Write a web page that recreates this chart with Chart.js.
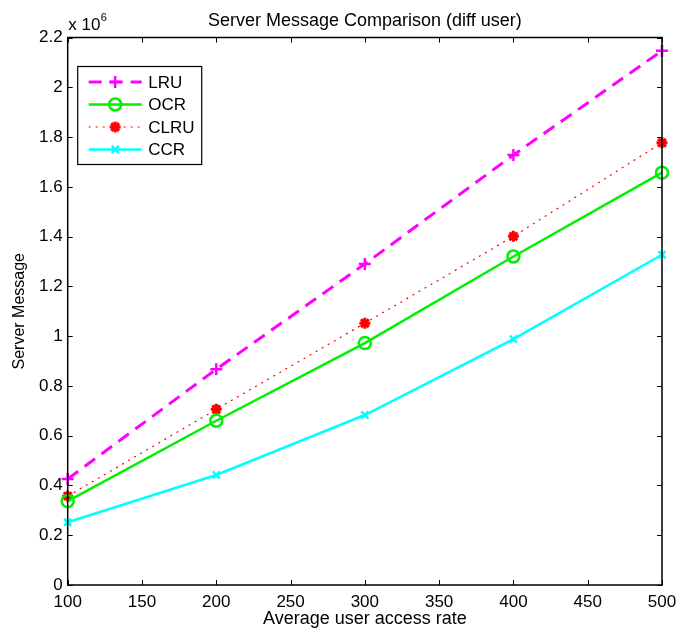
<!DOCTYPE html>
<html>
<head>
<meta charset="utf-8">
<script src="https://cdn.jsdelivr.net/npm/chart.js@4"></script>
<style>
  html, body { margin: 0; padding: 0; background: #fff; }
  #wrap { width: 680px; height: 632px; }
</style>
</head>
<body>
<div id="wrap"><canvas id="serverChart" width="680" height="632"></canvas></div>
<script>
// access rates on the x axis
const accessRates = [100, 200, 300, 400, 500];

// server messages per scheme
const lruValues = [426000, 867000, 1290000, 1728000, 2147000];
const ocrValues = [337000, 660000, 972000, 1320000, 1657000];
const clruValues = [357000, 706000, 1052000, 1401000, 1777000];
const ccrValues = [252000, 442000, 683000, 988000, 1327000];

const xTicks = [100, 150, 200, 250, 300, 350, 400, 450, 500];
const yTicks = [0, 0.2, 0.4, 0.6, 0.8, 1, 1.2, 1.4, 1.6, 1.8, 2, 2.2];

const FONT = "'Liberation Sans', Arial, Helvetica, sans-serif";

function toPoints(values) {
    return values.map((v, i) => ({ x: accessRates[i], y: v }));
}

const datasets = [
    {
        label: "LRU",
        data: toPoints(lruValues),
        borderColor: "#ff00ff",
        borderWidth: 3,
        borderDash: [13, 8],
        pointStyle: "cross",
        pointRadius: 6,
        pointBorderWidth: 2.5,
        pointBorderColor: "#ff00ff",
        pointBackgroundColor: "#ff00ff",
    },
    {
        label: "OCR",
        data: toPoints(ocrValues),
        borderColor: "#00f000",
        borderWidth: 2.5,
        pointStyle: "circle",
        pointRadius: 6,
        pointBorderWidth: 2.5,
        pointBorderColor: "#00f000",
        pointBackgroundColor: "rgba(0,0,0,0)",
    },
    {
        label: "CLRU",
        data: toPoints(clruValues),
        borderColor: "#ff0000",
        borderWidth: 1.2,
        borderDash: [2, 5],
        pointStyle: "star",
        pointRadius: 5.5,
        pointBorderWidth: 3,
        pointBorderColor: "#ff0000",
        pointBackgroundColor: "#ff0000",
    },
    {
        label: "CCR",
        data: toPoints(ccrValues),
        borderColor: "#00ffff",
        borderWidth: 2.5,
        pointStyle: "crossRot",
        pointRadius: 5,
        pointBorderWidth: 2.5,
        pointBorderColor: "#00ffff",
        pointBackgroundColor: "#00ffff",
    },
];
datasets.forEach((d) => { d.fill = false; d.tension = 0; d.clip = false; });

// matlab-like frame, inward ticks, legend box and exponent label
const matlabFrame = {
    id: "matlabFrame",
    afterDraw(chart) {
        const ctx = chart.ctx;
        const area = chart.chartArea;
        const xs = chart.scales.x;
        const ys = chart.scales.y;
        const tick = 5;

        ctx.save();
        ctx.strokeStyle = "#000";
        ctx.lineWidth = 1.5;
        ctx.strokeRect(area.left, area.top, area.right - area.left, area.bottom - area.top);

        ctx.lineWidth = 1;
        ctx.beginPath();
        xTicks.forEach((t) => {
            const px = Math.round(xs.getPixelForValue(t)) + 0.5;
            ctx.moveTo(px, area.bottom);
            ctx.lineTo(px, area.bottom - tick);
            ctx.moveTo(px, area.top);
            ctx.lineTo(px, area.top + tick);
        });
        yTicks.forEach((t) => {
            const py = Math.round(ys.getPixelForValue(t * 1e6)) + 0.5;
            ctx.moveTo(area.left, py);
            ctx.lineTo(area.left + tick, py);
            ctx.moveTo(area.right, py);
            ctx.lineTo(area.right - tick, py);
        });
        ctx.stroke();

        // title
        ctx.fillStyle = "#000";
        ctx.font = "18px " + FONT;
        ctx.textAlign = "center";
        ctx.textBaseline = "alphabetic";
        ctx.fillText("Server Message Comparison (diff user)", (area.left + area.right) / 2, 26);

        // exponent
        ctx.textAlign = "left";
        ctx.font = "17px " + FONT;
        ctx.fillText("x 10", area.left + 0.5, 30);
        ctx.font = "11px " + FONT;
        ctx.fillText("6", area.left + 33, 21);

        // legend
        const lx = area.left + 10, ly = area.top + 29, lw = 124, lh = 98;
        ctx.fillStyle = "#fff";
        ctx.fillRect(lx, ly, lw, lh);
        ctx.strokeStyle = "#000";
        ctx.lineWidth = 1.2;
        ctx.strokeRect(lx, ly, lw, lh);
        datasets.forEach((d, i) => {
            const cy = ly + 15.5 + i * 22.5;
            ctx.save();
            ctx.strokeStyle = d.borderColor;
            ctx.lineWidth = d.borderWidth;
            ctx.setLineDash(d.borderDash || []);
            ctx.beginPath();
            ctx.moveTo(lx + 11, cy);
            ctx.lineTo(lx + 64, cy);
            ctx.stroke();
            ctx.restore();

            ctx.save();
            ctx.strokeStyle = d.pointBorderColor;
            ctx.fillStyle = d.pointBackgroundColor;
            ctx.lineWidth = d.pointBorderWidth;
            ctx.setLineDash([]);
            Chart.helpers.drawPoint(ctx, {
                pointStyle: d.pointStyle,
                radius: d.pointRadius,
                borderWidth: d.pointBorderWidth,
            }, lx + 37.5, cy);
            ctx.restore();

            ctx.fillStyle = "#000";
            ctx.font = "17px " + FONT;
            ctx.textAlign = "left";
            ctx.textBaseline = "middle";
            ctx.fillText(d.label, lx + 70.5, cy + 1);
        });
        ctx.restore();
    },
};

new Chart(document.getElementById("serverChart").getContext("2d"), {
    type: "line",
    data: { datasets: datasets },
    options: {
        responsive: false,
        animation: false,
        layout: { padding: { top: 37.5, right: 18, left: 0, bottom: 0 } },
        plugins: {
            legend: { display: false },
            tooltip: { enabled: false },
        },
        scales: {
            x: {
                type: "linear",
                min: 100,
                max: 500,
                afterBuildTicks: (scale) => {
                    scale.ticks = xTicks.map((v) => ({ value: v }));
                },
                afterFit: (scale) => {
                    scale.height = 47;
                    scale.paddingLeft = 0;
                    scale.paddingRight = 0;
                },
                grid: { display: false, drawTicks: false },
                border: { display: false },
                ticks: {
                    color: "#000",
                    padding: 7,
                    maxRotation: 0,
                    font: { size: 17, family: FONT },
                },
                title: {
                    display: true,
                    text: "Average user access rate",
                    color: "#000",
                    padding: { top: 0, bottom: 2 },
                    font: { size: 18, family: FONT },
                },
            },
            y: {
                type: "linear",
                min: 0,
                max: 2200000,
                afterBuildTicks: (scale) => {
                    scale.ticks = yTicks.map((v) => ({ value: v * 1e6 }));
                },
                afterFit: (scale) => {
                    scale.width = 67.7;
                    scale.paddingTop = 0;
                    scale.paddingBottom = 0;
                },
                grid: { display: false, drawTicks: false },
                border: { display: false },
                ticks: {
                    color: "#000",
                    padding: 5,
                    font: { size: 17, family: FONT },
                    callback: (v) => String(Math.round(v / 1e5) / 10),
                },
                title: {
                    display: true,
                    text: "Server Message",
                    color: "#000",
                    padding: { top: 10, bottom: 0 },
                    font: { size: 16, family: FONT },
                },
            },
        },
    },
    plugins: [matlabFrame],
});
</script>
</body>
</html>
